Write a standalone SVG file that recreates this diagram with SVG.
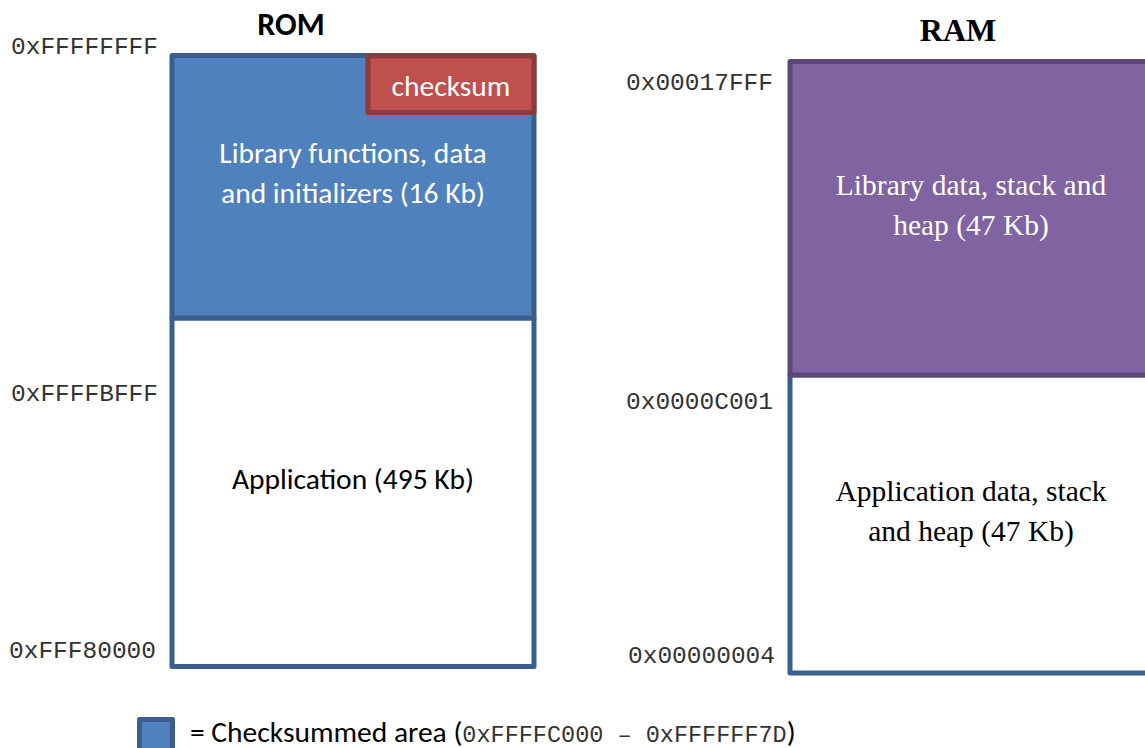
<svg xmlns="http://www.w3.org/2000/svg" width="1145" height="748" viewBox="0 0 1145 748">
  <style>
    .sans { font-family: Carlito, Lato, "Open Sans", sans-serif; font-size: 29.5px; }
    .serif { font-family: "Liberation Serif", "Times New Roman", serif; font-size: 29.5px; }
    .mono { font-family: "Liberation Mono", "Courier New", monospace; font-size: 24.5px; fill: #333; }
    .mono-sm { font-family: "Liberation Mono", "Courier New", monospace; font-size: 23.5px; fill: #333; }
    .blk { fill: #4f81bd; stroke: #3a5f8e; stroke-width: 5; stroke-linejoin: round; }
    .white { fill: #ffffff; stroke: #3a5f8e; stroke-width: 5; stroke-linejoin: round; }
    .red { fill: #c0504d; stroke: #8e3a38; stroke-width: 5; stroke-linejoin: round; }
    .purple { fill: #8064a2; stroke: #5d4778; stroke-width: 5; stroke-linejoin: round; }
    .lt { fill: #ffffff; text-anchor: middle; }
    .dk { fill: #000000; text-anchor: middle; }
    .title { font-size: 32px; font-weight: bold; text-anchor: middle; fill: #000; }
  </style>

  <!-- ROM column -->
  <g id="rom-title">
    <text class="sans title" x="291" y="35">ROM</text>
  </g>
  <g id="rom-application">
    <rect class="white" x="172" y="318" width="362" height="348.5"/>
    <text class="sans dk" x="353" y="489">Application (495 Kb)</text>
  </g>
  <g id="rom-library">
    <rect class="blk" x="172" y="55.5" width="362" height="262.5"/>
    <text class="sans lt" x="353" y="163">Library functions, data</text>
    <text class="sans lt" x="353" y="203">and initializers (16 Kb)</text>
  </g>
  <g id="rom-checksum">
    <rect class="red" x="368" y="56" width="166" height="56.5"/>
    <text class="sans lt" x="451" y="96">checksum</text>
  </g>
  <g id="rom-addresses">
    <text class="mono" x="11" y="54">0xFFFFFFFF</text>
    <text class="mono" x="11" y="401">0xFFFFBFFF</text>
    <text class="mono" x="9" y="658">0xFFF80000</text>
  </g>

  <!-- RAM column -->
  <g id="ram-title">
    <text class="serif title" x="958" y="41">RAM</text>
  </g>
  <g id="ram-application">
    <rect class="white" x="790" y="375" width="370" height="298"/>
    <text class="serif dk" x="971" y="501">Application data, stack</text>
    <text class="serif dk" x="971" y="541">and heap (47 Kb)</text>
  </g>
  <g id="ram-library">
    <rect class="purple" x="790" y="61.5" width="370" height="313.5"/>
    <text class="serif lt" x="971" y="195">Library data, stack and</text>
    <text class="serif lt" x="971" y="235">heap (47 Kb)</text>
  </g>
  <g id="ram-addresses">
    <text class="mono" x="626" y="90">0x00017FFF</text>
    <text class="mono" x="626" y="409">0x0000C001</text>
    <text class="mono" x="628" y="663">0x00000004</text>
  </g>

  <!-- legend -->
  <g id="legend">
    <rect class="blk" x="139.5" y="719.5" width="33" height="33"/>
    <text class="sans" x="190" y="742" fill="#000">= Checksummed area (<tspan class="mono-sm">0xFFFFC000 – 0xFFFFFF7D</tspan>)</text>
  </g>
</svg>
